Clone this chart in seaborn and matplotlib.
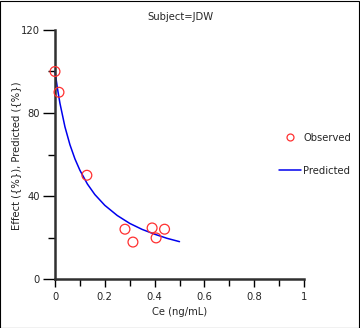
import matplotlib
matplotlib.use("Agg")
import matplotlib.pyplot as plt
import seaborn as sns
import pandas as pd
from matplotlib.ticker import MultipleLocator
from matplotlib.lines import Line2D

sns.set_style("white")
plt.rcParams['font.family'] = ['DejaVu Sans']

obs_ce = [0.0, 0.016, 0.128, 0.281, 0.313, 0.39, 0.406, 0.44]
obs_effect = [100, 90, 50, 24, 17.8, 24.6, 19.8, 24]

pred_ce = [0.0, 0.01, 0.02, 0.04, 0.06, 0.08, 0.1, 0.13, 0.16, 0.2, 0.25, 0.3, 0.35, 0.4, 0.45, 0.5]
pred_effect = [100, 91.7, 84.6, 73.3, 64.7, 57.9, 52.4, 45.8, 40.7, 35.5, 30.6, 26.8, 23.9, 21.6, 19.6, 18.0]

obs = pd.DataFrame({"Ce": obs_ce, "Effect": obs_effect})
pred = pd.DataFrame({"Ce": pred_ce, "Predicted": pred_effect})

FS = 7.2

fig = plt.figure(figsize=(3.6, 3.28), dpi=100)
ax = fig.add_axes([55/360, 1-279/328, 249/360, 249/328])

sns.lineplot(data=pred, x="Ce", y="Predicted", ax=ax, color="#0000ee", linewidth=1.1, clip_on=False)
sns.scatterplot(data=obs, x="Ce", y="Effect", ax=ax, marker="o", s=50,
                facecolor="none", edgecolor="#ff3030", linewidth=0.9, clip_on=False, zorder=5)

ax.set_xlim(0, 1)
ax.set_ylim(0, 120)
ax.xaxis.set_major_locator(MultipleLocator(0.2))
ax.xaxis.set_minor_locator(MultipleLocator(0.1))
ax.yaxis.set_major_locator(MultipleLocator(40))
ax.yaxis.set_minor_locator(MultipleLocator(20))
ax.set_xticks([0, 0.2, 0.4, 0.6, 0.8, 1.0])
ax.set_xticklabels(["0", "0.2", "0.4", "0.6", "0.8", "1"])

for s in ["top", "right"]:
    ax.spines[s].set_visible(False)
for s in ["left", "bottom"]:
    ax.spines[s].set_color("#303030")
    ax.spines[s].set_linewidth(1.8)

ax.tick_params(axis="x", which="major", direction="out", length=6, width=1, color="black",
               labelsize=FS, pad=3, bottom=True)
ax.tick_params(axis="x", which="minor", direction="out", length=5, width=1, color="black", bottom=True)
ax.tick_params(axis="y", which="major", direction="out", length=9, width=1, color="black",
               labelsize=FS, pad=2, left=True)
ax.tick_params(axis="y", which="minor", direction="out", length=5, width=1, color="black", left=True)

ax.set_xlabel("Ce (ng/mL)", fontsize=FS, labelpad=4)
ax.set_ylabel("")
fig.text(16/360, 1-156/328, "Effect ({%}), Predicted ({%})", rotation=90, ha="center", va="center",
         fontsize=FS, color="#202020")
fig.text(180/360, 1-17/328, "Subject=JDW", ha="center", va="center", fontsize=FS)

handles = [
    Line2D([], [], marker="o", linestyle="none", markerfacecolor="none",
           markeredgecolor="#ff3030", markersize=5.0, markeredgewidth=0.9),
    Line2D([], [], color="#0000ee", linewidth=1.1),
]
leg = fig.legend(handles, ["Observed", "Predicted"], loc="center left",
                 bbox_to_anchor=(279/360, 1-154.5/328), frameon=False, fontsize=FS,
                 handlelength=2.2, handletextpad=0.2, labelspacing=2.3, borderpad=0, borderaxespad=0)

border = plt.Rectangle((0.001, 0.001), 0.997, 0.996, transform=fig.transFigure,
                       fill=False, edgecolor="black", linewidth=0.8)
fig.patches.append(border)

fig.savefig("out.png", dpi=100)
